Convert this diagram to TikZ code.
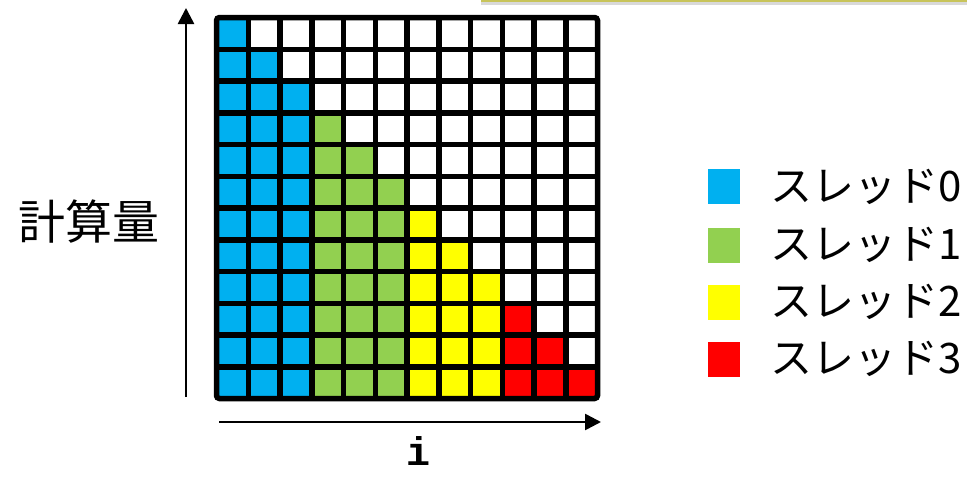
\documentclass[tikz,border=0pt]{standalone}
\usepackage{fontspec}
\usepackage{tikz}
\usetikzlibrary{arrows.meta, positioning, calc}
\newfontfamily\jpfont{Noto Sans CJK JP}
\setmonofont{Liberation Mono}

\definecolor{thread0}{HTML}{00B0F0}
\definecolor{thread1}{HTML}{92D050}
\definecolor{thread2}{HTML}{FFFF00}
\definecolor{thread3}{HTML}{FF0000}
\definecolor{frameline}{HTML}{C8C45A}

\begin{document}
\begin{tikzpicture}[
    x=1pt, y=-1pt,
    cellline/.style={line width=5.5pt, black},
    axis/.style={-{Triangle[length=16pt,width=16pt]}, line width=2.6pt, black},
    legbox/.style={rectangle, minimum width=32pt, minimum height=35pt, inner sep=0pt},
    legtext/.style={anchor=west, inner sep=0pt, font=\jpfont\fontsize{42}{42}\selectfont}
]
    \useasboundingbox (0,0) rectangle (967,477);
    \def\cs{31.75}

    % edge of the box above
    \fill[gray!30] (481,1) rectangle (967,5);
    \draw[frameline, line width=1.5pt] (481,0.8) -- (967,0.8);

    % cells of the lower triangle
    \foreach \r in {0,...,11} {
        \foreach \c in {0,...,\r} {
            \pgfmathtruncatemacro\k{\c/3}
            \fill[thread\k] (216.5+\c*\cs,17.5+\r*\cs) rectangle ++(\cs,\cs);
        }
    }

    % grid
    \foreach \i in {1,...,11} {
        \draw[cellline] (216.5+\i*\cs,17.5) -- ++(0,12*\cs);
        \draw[cellline] (216.5,17.5+\i*\cs) -- ++(12*\cs,0);
    }
    \draw[cellline, rounded corners=3pt] (216.5,17.5) rectangle ++(12*\cs,12*\cs);

    % axes
    \coordinate (ybot) at (186,397);
    \coordinate (ytop) at (186,8);
    \coordinate (xleft) at (219,422);
    \coordinate (xright) at (601,422);
    \draw[axis] (ybot) -- (ytop);
    \draw[axis] (xleft) -- (xright);

    \node[font=\jpfont\fontsize{47}{47}\selectfont] (amount) at (89,222) {計算量};
    \node[anchor=base, inner sep=0pt, font=\ttfamily\bfseries\fontsize{40}{40}\selectfont] (idx) at (418,465) {i};

    % legend
    \foreach \n/\y in {0/186.5, 1/245, 2/302, 3/359} {
        \node[legbox, fill=thread\n] (sq\n) at (724,\y) {};
        \node[legtext] (lab\n) at (770,\y) {スレッド\n};
    }
\end{tikzpicture}
\end{document}
